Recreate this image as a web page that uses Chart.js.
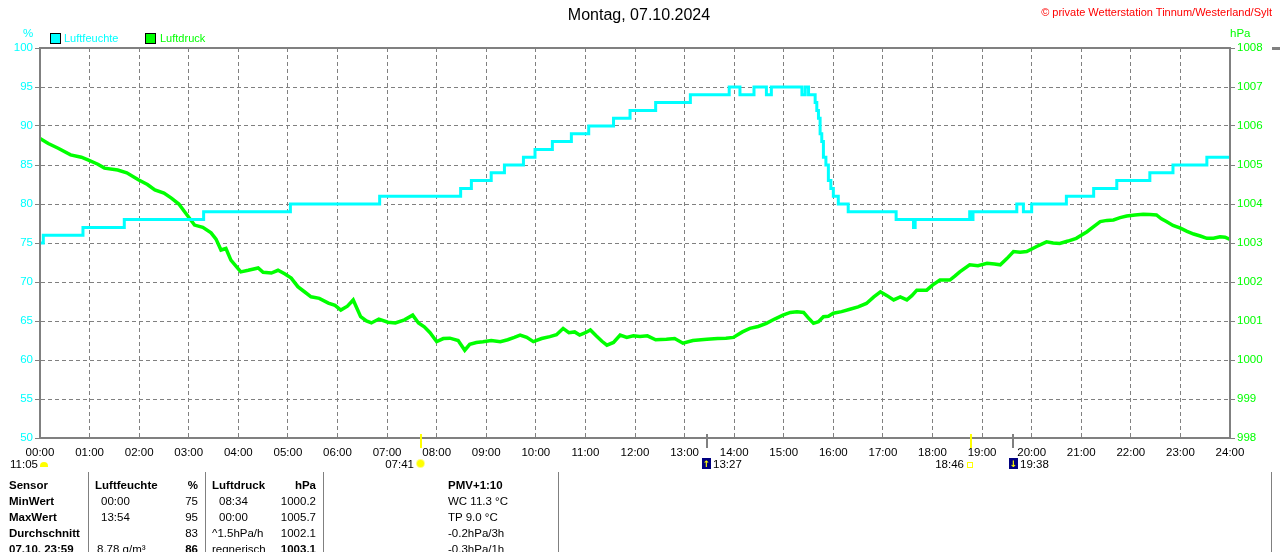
<!DOCTYPE html>
<html>
<head>
<meta charset="utf-8">
<script src="https://cdn.jsdelivr.net/npm/chart.js@4"></script>
<style>
body{margin:0;background:#fff;overflow:hidden;width:1280px;height:552px;position:relative;font-family:"Liberation Sans",Arial,sans-serif}
.t{position:absolute;white-space:nowrap;line-height:16px;font-size:11.5px;color:#000}
.b{font-weight:bold;font-size:11.5px}
.sep{position:absolute;top:472px;height:80px;width:1px;background:#808080}
.box{position:absolute;width:9px;height:9px;border:1px solid #000}
.moon{position:absolute;width:9px;height:11px;background:#000080;color:#ff0;font:bold 9px "DejaVu Sans",sans-serif;text-align:center;line-height:12px}
</style>
</head>
<body>
<canvas id="c" width="1280" height="552" style="position:absolute;left:0;top:0"></canvas>

<div class="t" style="left:0;width:1278px;top:5px;text-align:center;font-size:16px;line-height:20px">Montag, 07.10.2024</div>
<div class="t" style="right:8px;top:4px;color:#f00;font-size:11px">© private Wetterstation Tinnum/Westerland/Sylt</div>

<div class="t" style="left:23px;top:25px;color:#0ff">%</div>
<div class="t" style="left:1230px;top:25px;color:#0f0">hPa</div>

<div class="box" style="left:50px;top:33px;background:#0ff"></div>
<div class="t" style="left:64px;top:30px;color:#0ff;font-size:11px">Luftfeuchte</div>
<div class="box" style="left:145px;top:33px;background:#0f0"></div>
<div class="t" style="left:160px;top:30px;color:#0f0;font-size:11px">Luftdruck</div>

<!-- sun / moon times under the axis -->
<div class="t" style="left:10px;top:456px">11:05</div>
<div style="position:absolute;left:40px;top:462px;width:8px;height:5px;background:#ff0;border-radius:5px 5px 0 0"></div>
<div class="t" style="right:866px;top:456px">07:41</div>
<div style="position:absolute;left:417px;top:460px;width:7px;height:7px;background:#ff0;border-radius:50%;box-shadow:0 0 0 1px #ffff80"></div>
<div class="moon" style="left:702px;top:458px">↑</div>
<div class="t" style="left:713px;top:456px">13:27</div>
<div class="t" style="right:316px;top:456px">18:46</div>
<div style="position:absolute;left:967px;top:462px;width:4px;height:4px;border:1px solid #ff0"></div>
<div class="moon" style="left:1009px;top:458px">↓</div>
<div class="t" style="left:1020px;top:456px">19:38</div>

<!-- summary table -->
<div class="sep" style="left:88px"></div>
<div class="sep" style="left:205px"></div>
<div class="sep" style="left:323px"></div>
<div class="sep" style="left:558px"></div>
<div class="sep" style="left:1271px"></div>

<div class="t b" style="left:9px;top:477px">Sensor</div>
<div class="t b" style="left:9px;top:493px">MinWert</div>
<div class="t b" style="left:9px;top:509px">MaxWert</div>
<div class="t b" style="left:9px;top:525px">Durchschnitt</div>
<div class="t b" style="left:9px;top:541px">07.10. 23:59</div>

<div class="t b" style="left:95px;top:477px">Luftfeuchte</div>
<div class="t" style="left:101px;top:493px">00:00</div>
<div class="t" style="left:101px;top:509px">13:54</div>
<div class="t" style="left:97px;top:541px">8.78 g/m³</div>
<div class="t b" style="right:1082px;top:477px">%</div>
<div class="t" style="right:1082px;top:493px">75</div>
<div class="t" style="right:1082px;top:509px">95</div>
<div class="t" style="right:1082px;top:525px">83</div>
<div class="t b" style="right:1082px;top:541px">86</div>

<div class="t b" style="left:212px;top:477px">Luftdruck</div>
<div class="t" style="left:219px;top:493px">08:34</div>
<div class="t" style="left:219px;top:509px">00:00</div>
<div class="t" style="left:212px;top:525px">^1.5hPa/h</div>
<div class="t" style="left:212px;top:541px">regnerisch</div>
<div class="t b" style="right:964px;top:477px">hPa</div>
<div class="t" style="right:964px;top:493px">1000.2</div>
<div class="t" style="right:964px;top:509px">1005.7</div>
<div class="t" style="right:964px;top:525px">1002.1</div>
<div class="t b" style="right:964px;top:541px">1003.1</div>

<div class="t b" style="left:448px;top:477px">PMV+1:10</div>
<div class="t" style="left:448px;top:493px">WC 11.3 °C</div>
<div class="t" style="left:448px;top:509px">TP 9.0 °C</div>
<div class="t" style="left:448px;top:525px">-0.2hPa/3h</div>
<div class="t" style="left:448px;top:541px">-0.3hPa/1h</div>

<div style="position:absolute;left:1272px;top:47px;width:8px;height:3px;background:#808080"></div>

<script>
// humidity (%) - stepped, time in minutes since midnight
const humTime = [0, 4, 52, 102, 198, 303, 411, 509, 522, 546, 562, 585, 599, 620, 643, 664, 694, 714, 745, 787,
  834, 847, 864, 879, 885, 922, 926, 930, 938, 940, 942, 944, 946, 948, 951, 954, 957, 960, 966, 978,
  1036, 1057, 1059, 1125, 1127, 1129, 1182, 1190, 1200, 1242, 1275, 1303, 1343, 1371, 1412, 1440];
const humValue = [75, 76, 77, 78, 79, 80, 81, 82, 83, 84, 85, 86, 87, 88, 89, 90, 91, 92, 93, 94,
  95, 94, 95, 94, 95, 94, 95, 94, 93, 92, 91, 89, 88, 86, 85, 83, 82, 81, 80, 79,
  78, 77, 78, 79, 78, 79, 80, 79, 80, 81, 82, 83, 84, 85, 86, 86];

// air pressure (hPa)
const presTime = [0, 10, 22, 37, 50, 58, 70, 78, 94, 105, 119, 130, 139, 150, 159, 168, 175, 187, 197, 207,
  213, 219, 225, 231, 243, 252, 264, 270, 280, 288, 296, 304, 312, 320, 328, 338, 349, 357, 364, 372,
  379, 384, 388, 395, 401, 410, 421, 430, 441, 451, 458, 465, 472, 480, 488, 496, 506, 514, 520, 528,
  536, 546, 557, 566, 574, 581, 589, 597, 607, 617, 625, 633, 640, 647, 653, 660, 666, 673, 680, 686,
  694, 702, 710, 718, 726, 735, 745, 758, 768, 778, 790, 800, 807, 820, 830, 839, 850, 859, 869, 879,
  889, 899, 908, 916, 924, 931, 936, 942, 948, 954, 960, 970, 980, 990, 1000, 1009, 1017, 1025, 1033, 1041,
  1049, 1055, 1061, 1073, 1080, 1089, 1101, 1107, 1113, 1125, 1135, 1146, 1155, 1162, 1170, 1178, 1186, 1194, 1206, 1218,
  1226, 1234, 1244, 1254, 1260, 1267, 1275, 1283, 1291, 1299, 1307, 1315, 1325, 1335, 1343, 1351, 1357, 1363, 1371, 1380,
  1388, 1396, 1404, 1412, 1420, 1428, 1434, 1440];
const presValue = [1005.68, 1005.55, 1005.43, 1005.26, 1005.2, 1005.13, 1005.02, 1004.92, 1004.87, 1004.8, 1004.62, 1004.5, 1004.36, 1004.28, 1004.15, 1004.0, 1003.8, 1003.46, 1003.4, 1003.26,
  1003.1, 1002.82, 1002.86, 1002.56, 1002.26, 1002.3, 1002.36, 1002.25, 1002.23, 1002.3, 1002.21, 1002.1, 1001.88, 1001.75, 1001.62, 1001.58, 1001.46, 1001.4, 1001.28, 1001.38,
  1001.54, 1001.3, 1001.11, 1001.0, 1000.95, 1001.05, 1000.97, 1000.95, 1001.03, 1001.15, 1000.95, 1000.85, 1000.7, 1000.47, 1000.55, 1000.56, 1000.5, 1000.25, 1000.4, 1000.45,
  1000.47, 1000.5, 1000.47, 1000.52, 1000.58, 1000.64, 1000.58, 1000.47, 1000.55, 1000.6, 1000.65, 1000.81, 1000.7, 1000.72, 1000.64, 1000.7, 1000.77, 1000.62, 1000.48, 1000.38,
  1000.45, 1000.64, 1000.58, 1000.62, 1000.6, 1000.62, 1000.52, 1000.53, 1000.55, 1000.43, 1000.5, 1000.52, 1000.53, 1000.55, 1000.56, 1000.58, 1000.72, 1000.81, 1000.86, 1000.94,
  1001.05, 1001.15, 1001.22, 1001.24, 1001.22, 1001.05, 1000.94, 1000.98, 1001.11, 1001.12, 1001.2, 1001.24, 1001.3, 1001.36, 1001.45, 1001.62, 1001.75, 1001.65, 1001.54, 1001.62,
  1001.54, 1001.65, 1001.79, 1001.79, 1001.92, 1002.05, 1002.05, 1002.15, 1002.26, 1002.44, 1002.42, 1002.48, 1002.46, 1002.44, 1002.6, 1002.78, 1002.76, 1002.78, 1002.91, 1003.03,
  1003.0, 1002.99, 1003.05, 1003.12, 1003.2, 1003.29, 1003.42, 1003.55, 1003.58, 1003.59, 1003.65, 1003.69, 1003.72, 1003.74, 1003.73, 1003.72, 1003.62, 1003.55, 1003.45, 1003.38,
  1003.3, 1003.23, 1003.18, 1003.12, 1003.12, 1003.16, 1003.15, 1003.09];

// sunrise / moonrise / sunset / moonset in minutes
const eventTimes = [461, 807, 1126, 1178];
const eventKinds = ['sun', 'moon', 'sun', 'moon'];

const FONT = '"Liberation Sans", Arial, sans-serif';
const GRID = '#808080';

const pad2 = (n) => String(n).padStart(2, '0');

// frame round the plot and the small rise/set marks on the time axis
const framePlugin = {
  id: 'frame',
  afterDraw(chart) {
    const { ctx, chartArea: a, scales } = chart;
    ctx.save();
    ctx.strokeStyle = GRID;
    ctx.lineWidth = 2;
    ctx.strokeRect(a.left, a.top, a.right - a.left, a.bottom - a.top);
    eventTimes.forEach((t, i) => {
      const x = Math.round(scales.x.getPixelForValue(t));
      ctx.strokeStyle = eventKinds[i] === 'sun' ? '#ffff00' : GRID;
      ctx.beginPath();
      ctx.moveTo(x, a.bottom - 4);
      ctx.lineTo(x, a.bottom + 10);
      ctx.stroke();
    });
    ctx.restore();
  }
};

new Chart(document.getElementById('c'), {
  type: 'line',
  data: {
    datasets: [
      {
        label: 'Luftfeuchte',
        data: humTime.map((t, i) => ({ x: t, y: humValue[i] })),
        yAxisID: 'y',
        borderColor: '#00ffff',
        borderWidth: 3,
        stepped: true,
        pointRadius: 0,
      },
      {
        label: 'Luftdruck',
        data: presTime.map((t, i) => ({ x: t, y: presValue[i] })),
        yAxisID: 'y1',
        borderColor: '#00ff00',
        borderWidth: 3.5,
        tension: 0,
        pointRadius: 0,
      },
    ],
  },
  options: {
    responsive: false,
    animation: false,
    devicePixelRatio: 1,
    layout: { padding: { top: 48, left: 0, right: 0, bottom: 0 } },
    plugins: { legend: { display: false }, tooltip: { enabled: false } },
    scales: {
      x: {
        type: 'linear',
        min: 0,
        max: 1440,
        afterFit: (s) => { s.height = 114; },
        ticks: {
          stepSize: 60,
          autoSkip: false,
          maxRotation: 0,
          padding: 8,
          color: '#000',
          font: { family: FONT, size: 11.5 },
          callback: (v) => pad2(v / 60) + ':00',
        },
        grid: { color: GRID, lineWidth: 1, drawTicks: false },
        border: { color: GRID, width: 2, dash: [4, 3] },
      },
      y: {
        position: 'left',
        min: 50,
        max: 100,
        afterFit: (s) => { s.width = 40; },
        ticks: { stepSize: 5, padding: 2, color: '#00ffff', font: { family: FONT, size: 11.5 } },
        grid: { color: GRID, lineWidth: 1, tickLength: 5, tickColor: GRID, tickBorderDash: [] },
        border: { color: GRID, width: 2, dash: [4, 3] },
      },
      y1: {
        position: 'right',
        min: 998,
        max: 1008,
        afterFit: (s) => { s.width = 50; },
        ticks: {
          stepSize: 1,
          padding: 2,
          color: '#00ff00',
          font: { family: FONT, size: 11.5 },
          callback: (v) => String(v),
        },
        grid: { drawOnChartArea: false, tickLength: 5, tickColor: GRID, tickBorderDash: [] },
        border: { color: GRID, width: 2 },
      },
    },
  },
  plugins: [framePlugin],
});
</script>
</body>
</html>
